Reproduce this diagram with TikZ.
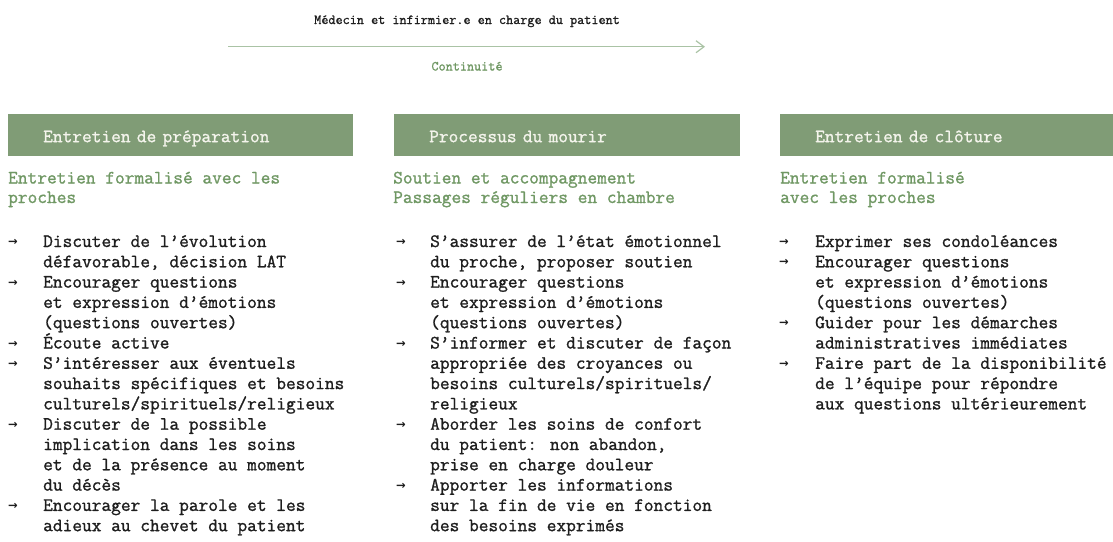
\documentclass[tikz,border=0pt]{standalone}
\usepackage{fontspec}
\newfontfamily\arrfont{DejaVu Sans Bold}
\newfontfamily\monof{Latin Modern Mono}[FakeBold=1.2]
\usetikzlibrary{arrows.meta}
\definecolor{boxgreen}{RGB}{128,156,118}
\definecolor{subgreen}{RGB}{112,152,100}
\definecolor{linegreen}{RGB}{170,195,165}
\definecolor{bodyc}{RGB}{30,30,30}
\definecolor{hdrtext}{RGB}{244,244,236}
\tikzset{
  body/.style={anchor=base west, inner sep=0pt, text=bodyc, font=\monof\fontsize{18.86}{20.3}\selectfont},
  sub/.style={body, text=subgreen},
  bul/.style={anchor=base west, inner sep=0pt, text=bodyc, font=\arrfont\fontsize{11.5}{12}\selectfont},
  hdr/.style={anchor=north west, fill=boxgreen, minimum height=42pt, inner xsep=35pt, inner ysep=0pt, text height=16pt, text depth=2pt, text=hdrtext, align=left, font=\monof\fontsize{18.86}{20.3}\selectfont},
  toplab/.style={inner sep=0pt, anchor=base, text=bodyc, font=\monof\fontsize{13.8}{16}\selectfont},
  flow/.style={draw=linegreen, line width=1.2pt, -{Straight Barb[length=8pt,width=12pt]}}
}
\begin{document}
\begin{tikzpicture}[x=1pt,y=-1pt]
\useasboundingbox (0,0) rectangle (1113,541);

% top
\node[toplab] (who) at (467,24) {Médecin et infirmier.e en charge du patient};
\coordinate (arrs) at (228,46.7);
\coordinate (arre) at (705,46.7);
\draw[flow] (arrs) -- (arre);
\node[toplab, text=subgreen] (cont) at (467,70.5) {Continuité};

% headers
\node[hdr, text width=275pt] (h1) at (8,114) {Entretien de préparation};
\node[hdr, text width=276pt] (h2) at (394,114) {Processus du mourir};
\node[hdr, text width=263pt] (h3) at (780,114) {Entretien de clôture};

% subtitles
\node[sub] (s1a) at (8,183.5) {Entretien formalisé avec les};
\node[sub] (s1b) at (8,203) {proches};
\node[sub] (s2a) at (393,183.5) {Soutien et accompagnement};
\node[sub] (s2b) at (393,203) {Passages réguliers en chambre};
\node[sub] (s3a) at (780,183.5) {Entretien formalisé};
\node[sub] (s3b) at (780,203) {avec les proches};

% column 1
\foreach \t [count=\i] in {
  {Discuter de l’évolution},
  {défavorable, décision LAT},
  {Encourager questions},
  {et expression d’émotions},
  {(questions ouvertes)},
  {Écoute active},
  {S’intéresser aux éventuels},
  {souhaits spécifiques et besoins},
  {culturels/spirituels/religieux},
  {Discuter de la possible},
  {implication dans les soins},
  {et de la présence au moment},
  {du décès},
  {Encourager la parole et les},
  {adieux au chevet du patient}}
  \node[body] (c1l\i) at (43,{247+(\i-1)*20.3}) {\t};
\foreach \k in {1,3,6,7,10,14}
  \node[bul] (c1a\k) at (8,{245.5+(\k-1)*20.3}) {→};

% column 2
\foreach \t [count=\i] in {
  {S’assurer de l’état émotionnel},
  {du proche, proposer soutien},
  {Encourager questions},
  {et expression d’émotions},
  {(questions ouvertes)},
  {S’informer et discuter de façon},
  {appropriée des croyances ou},
  {besoins culturels/spirituels/},
  {religieux},
  {Aborder les soins de confort},
  {du patient: non abandon,},
  {prise en charge douleur},
  {Apporter les informations},
  {sur la fin de vie en fonction},
  {des besoins exprimés}}
  \node[body] (c2l\i) at (430,{247+(\i-1)*20.3}) {\t};
\foreach \k in {1,3,6,10,13}
  \node[bul] (c2a\k) at (396,{245.5+(\k-1)*20.3}) {→};

% column 3
\foreach \t [count=\i] in {
  {Exprimer ses condoléances},
  {Encourager questions},
  {et expression d’émotions},
  {(questions ouvertes)},
  {Guider pour les démarches},
  {administratives immédiates},
  {Faire part de la disponibilité},
  {de l’équipe pour répondre},
  {aux questions ultérieurement}}
  \node[body] (c3l\i) at (815,{247+(\i-1)*20.3}) {\t};
\foreach \k in {1,2,5,7}
  \node[bul] (c3a\k) at (779,{245.5+(\k-1)*20.3}) {→};
\end{tikzpicture}
\end{document}
